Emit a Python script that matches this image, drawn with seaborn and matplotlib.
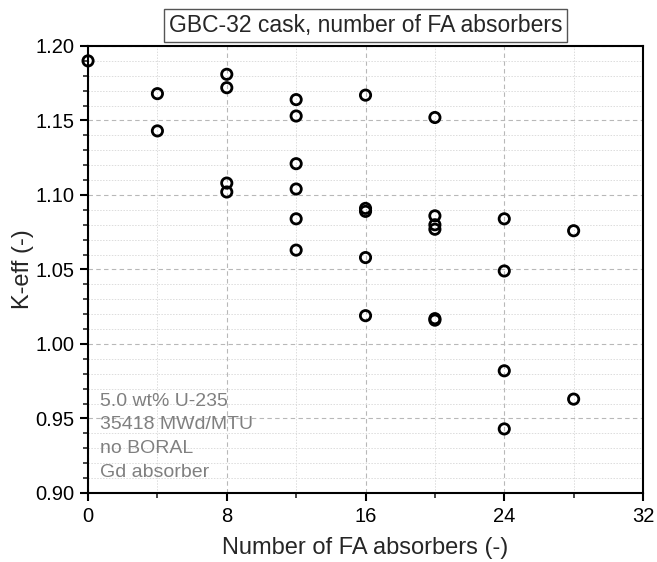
import pandas as pd
import matplotlib
matplotlib.use('Agg')
import matplotlib.pyplot as plt
import matplotlib.ticker as mticker
import seaborn as sns

# Data
absorbers = [0,
             4, 4,
             8, 8, 8, 8,
             12, 12, 12, 12, 12, 12,
             16, 16, 16, 16, 16,
             20, 20, 20, 20, 20, 20,
             24, 24, 24, 24,
             28, 28]
keff = [1.190,
        1.168, 1.143,
        1.181, 1.172, 1.108, 1.102,
        1.164, 1.153, 1.121, 1.104, 1.084, 1.063,
        1.167, 1.091, 1.089, 1.058, 1.019,
        1.152, 1.086, 1.080, 1.077, 1.017, 1.016,
        1.084, 1.049, 0.982, 0.943,
        1.076, 0.963]

x_ticks = [0, 8, 16, 24, 32]
y_ticks = [0.90, 0.95, 1.00, 1.05, 1.10, 1.15, 1.20]
note_lines = ['5.0 wt% U-235', '35418 MWd/MTU', 'no BORAL', 'Gd absorber']

df = pd.DataFrame({'absorbers': absorbers, 'keff': keff})

sns.set_theme(style='white')
plt.rcParams['font.family'] = ['Liberation Sans', 'DejaVu Sans']

fig = plt.figure(figsize=(6.57, 5.62), dpi=100)
ax = fig.add_axes([0.134, 0.1228, 0.8447, 0.7954])

sns.scatterplot(data=df, x='absorbers', y='keff', ax=ax, marker='o',
                s=55, facecolor='none', edgecolor='black', linewidth=2,
                zorder=5, clip_on=False)

ax.set_xlim(0, 32)
ax.set_ylim(0.90, 1.20)
ax.set_xticks(x_ticks)
ax.set_yticks(y_ticks)
ax.xaxis.set_minor_locator(mticker.MultipleLocator(4))
ax.yaxis.set_minor_locator(mticker.MultipleLocator(0.01))
ax.yaxis.set_major_formatter(mticker.FormatStrFormatter('%.2f'))

ax.grid(which='major', color='#b8b8b8', linestyle=(0, (4, 3)), linewidth=0.8)
ax.grid(which='minor', color='#dcdcdc', linestyle=(0, (1.5, 1.5)), linewidth=0.7)
ax.set_axisbelow(True)

for sp in ax.spines.values():
    sp.set_color('black')
    sp.set_linewidth(1.5)

ax.tick_params(which='major', direction='out', length=6, width=1.5,
               labelsize=14.5, colors='black', bottom=True, left=True, pad=4)
ax.tick_params(which='minor', direction='out', length=3.5, width=1.2,
               bottom=True, left=True)

ax.set_xlabel('Number of FA absorbers (-)', fontsize=17, labelpad=8)
ax.set_ylabel('K-eff (-)', fontsize=17, labelpad=1)

ax.set_title('GBC-32 cask, number of FA absorbers', fontsize=16.5, pad=10,
             bbox=dict(boxstyle='square,pad=0.22', facecolor='white',
                       edgecolor='#555555', linewidth=1))

ax.text(0.022, 0.027, '\n'.join(note_lines), transform=ax.transAxes,
        fontsize=14, color='#808080', ha='left', va='bottom',
        linespacing=1.52)

fig.savefig('out.png', dpi=100)
